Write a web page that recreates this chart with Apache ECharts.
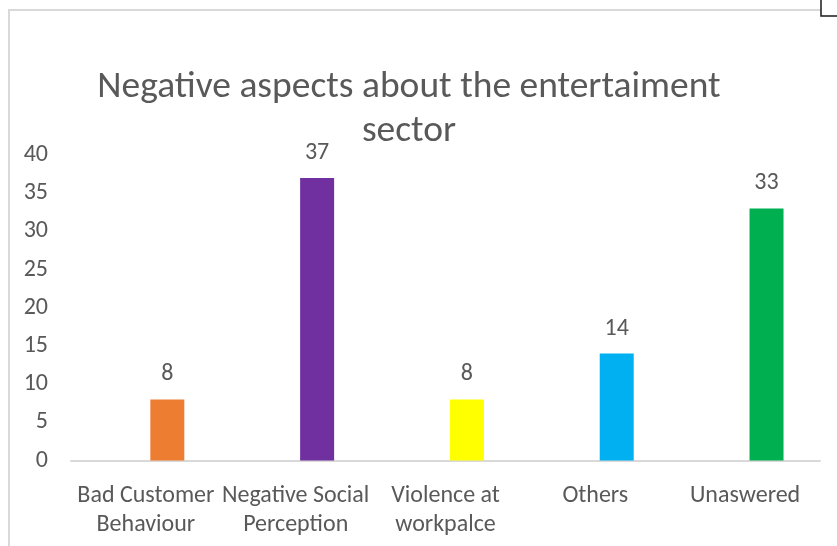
<!DOCTYPE html>
<html>
<head>
<meta charset="utf-8">
<script src="https://cdn.jsdelivr.net/npm/echarts@6/dist/echarts.min.js"></script>
<style>
  html, body { margin: 0; padding: 0; background: #ffffff; }
  #chart { width: 837px; height: 546px; }
</style>
</head>
<body>
<div id="chart"></div>
<script>
// Survey answers: negative aspects of working in the entertainment sector
const categories = [
  'Bad Customer\nBehaviour',
  'Negative Social\nPerception',
  'Violence at\nworkpalce',
  'Others',
  'Unaswered'
];
const counts = [8, 37, 8, 14, 33];
const barColors = ['#ED7D31', '#7030A0', '#FFFF00', '#00B0F0', '#00B050'];
const yTicks = { min: 0, max: 40, step: 5 };
const titleText = 'Negative aspects about the entertaiment\nsector';

const FONT = "Carlito, Lato, 'Liberation Sans', sans-serif";
const GREY = '#595959';

const chart = echarts.init(document.getElementById('chart'), null, { renderer: 'canvas' });

chart.setOption({
  animation: false,
  backgroundColor: '#ffffff',
  title: {
    text: titleText,
    left: 404,
    top: 61,
    textAlign: 'center',
    textStyle: {
      fontFamily: FONT,
      fontSize: 37.5,
      fontWeight: 'normal',
      color: GREY,
      lineHeight: 44
    }
  },
  graphic: [
    {
      // chart area frame
      type: 'rect',
      silent: true,
      shape: { x: 9, y: 10, width: 900, height: 600 },
      style: { fill: null, stroke: '#d9d9d9', lineWidth: 2 }
    },
    {
      type: 'rect',
      silent: true,
      shape: { x: 821, y: -4, width: 40, height: 20 },
      style: { fill: '#ffffff', stroke: '#1a1a1a', lineWidth: 1.5 }
    }
  ],
  grid: {
    left: 71,
    right: 17,
    top: 155,
    bottom: 85.5,
    containLabel: false
  },
  xAxis: {
    type: 'category',
    data: categories,
    axisLine: { show: true, lineStyle: { color: '#d9d9d9', width: 2 } },
    axisTick: { show: false },
    splitLine: { show: false },
    axisLabel: {
      interval: 0,
      hideOverlap: false,
      margin: 21,
      fontFamily: FONT,
      fontSize: 24,
      lineHeight: 29,
      color: GREY
    }
  },
  yAxis: {
    type: 'value',
    min: yTicks.min,
    max: yTicks.max,
    interval: yTicks.step,
    axisLine: { show: false },
    axisTick: { show: false },
    splitLine: { show: false },
    axisLabel: {
      margin: 23,
      fontFamily: FONT,
      fontSize: 24,
      color: GREY
    }
  },
  series: [
    {
      // empty leading slot of the cluster
      name: 'slot',
      type: 'bar',
      barWidth: 34,
      barGap: '26%',
      data: categories.map(() => '-'),
      silent: true
    },
    {
      name: 'Responses',
      type: 'bar',
      barWidth: 34,
      barGap: '26%',
      data: counts.map((v, i) => ({ value: v, itemStyle: { color: barColors[i] } })),
      label: {
        show: true,
        position: 'top',
        distance: 13,
        fontFamily: FONT,
        fontSize: 24,
        color: GREY
      }
    }
  ]
});
</script>
</body>
</html>
